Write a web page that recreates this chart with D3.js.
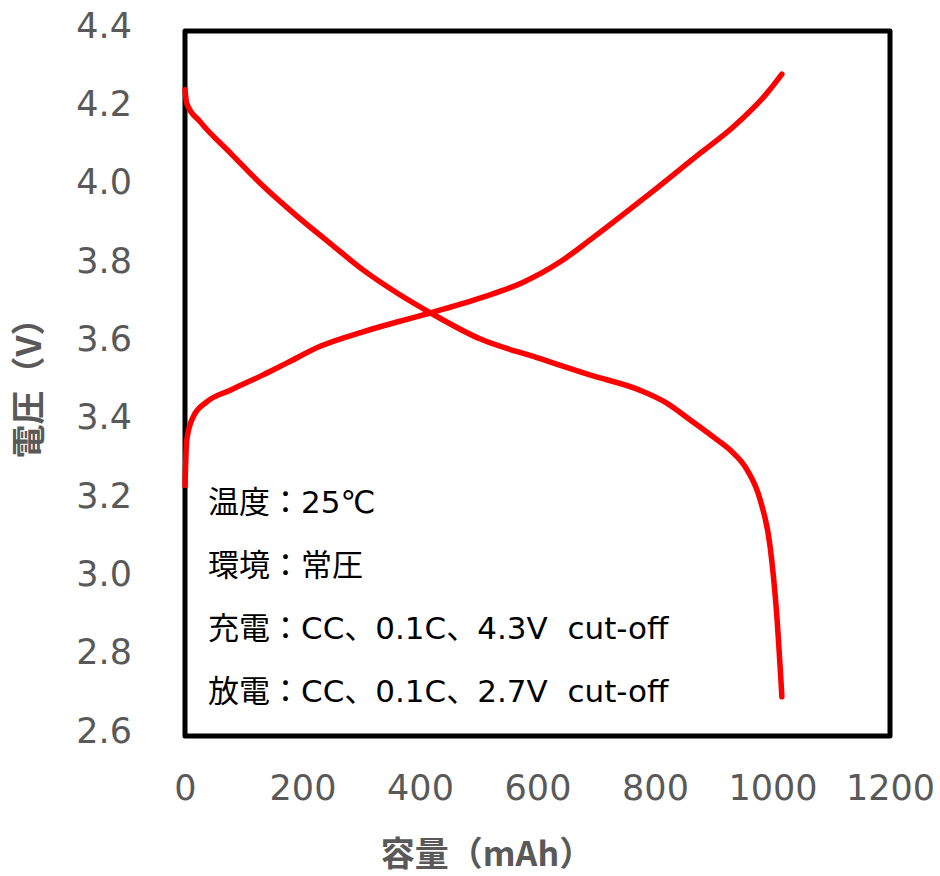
<!DOCTYPE html>
<html>
<head>
<meta charset="utf-8">
<script src="https://cdn.jsdelivr.net/npm/d3@7"></script>
<style>
  body { margin: 0; background: #fff; }
  .tick text { fill: #595959; font-family: "DejaVu Sans", sans-serif; }
  .note { white-space: pre; }
</style>
</head>
<body>
<div id="chart_area"></div>
<script>
// charge curve: capacity (mAh), voltage (V)
var charge_cap = [0, 3, 14, 37, 77, 133, 173, 230, 303, 361, 417, 502, 575, 640, 689, 783, 877, 933, 991, 1016];
var charge_v = [3.24, 3.356, 3.415, 3.453, 3.483, 3.522, 3.552, 3.595, 3.632, 3.657, 3.68, 3.718, 3.758, 3.812, 3.866, 3.975, 4.088, 4.155, 4.242, 4.29];

// discharge curve
var discharge_cap = [0, 3, 26, 77, 133, 190, 247, 303, 361, 417, 502, 599, 689, 774, 820, 860, 906, 928, 957, 979, 996, 1007, 1016];
var discharge_v = [4.25, 4.215, 4.168, 4.089, 4.004, 3.928, 3.858, 3.79, 3.731, 3.681, 3.614, 3.566, 3.522, 3.483, 3.45, 3.407, 3.356, 3.33, 3.279, 3.203, 3.083, 2.914, 2.70];

var x_ticks = [0, 200, 400, 600, 800, 1000, 1200];
var y_ticks = [2.6, 2.8, 3.0, 3.2, 3.4, 3.6, 3.8, 4.0, 4.2, 4.4];

var notes = ["温度：25℃", "環境：常圧", "充電：CC、0.1C、4.3V  cut-off", "放電：CC、0.1C、2.7V  cut-off"];

var frame_width = 940, frame_height = 876;
var margin = {top: 31, right: 50, bottom: 140, left: 185};
var canvas_width = frame_width - margin.left - margin.right;   // 705
var canvas_height = frame_height - margin.top - margin.bottom; // 705

var frame = d3.select("#chart_area").append("svg")
	.attr("width", frame_width)
	.attr("height", frame_height);

var canvas = frame.append("g")
	.attr("transform", "translate(" + margin.left + "," + margin.top + ")");

var xScale = d3.scaleLinear().domain([0, 1200]).range([0, canvas_width]);
var yScale = d3.scaleLinear().domain([2.6, 4.4]).range([canvas_height, 0]);

// axes (labels only, no lines)
var xAxis = d3.axisBottom(xScale).tickValues(x_ticks).tickSize(0).tickPadding(0).tickFormat(d3.format("d"));
var yAxis = d3.axisLeft(yScale).tickValues(y_ticks).tickSize(0).tickPadding(0).tickFormat(d3.format(".1f"));

var gx = canvas.append("g")
	.attr("transform", "translate(0," + canvas_height + ")")
	.call(xAxis);
gx.select(".domain").remove();
gx.selectAll("text")
	.attr("font-size", 35)
	.attr("y", 52)
	.attr("dy", "0.35em");

var gy = canvas.append("g").call(yAxis);
gy.select(".domain").remove();
gy.selectAll("text")
	.attr("font-size", 35)
	.attr("x", -53)
	.attr("y", -6)
	.attr("dy", "0.35em");

// frame of the plot area
canvas.append("rect")
	.attr("x", 0).attr("y", 0)
	.attr("width", canvas_width).attr("height", canvas_height)
	.attr("fill", "none")
	.attr("stroke", "#000")
	.attr("stroke-width", 5)
	.attr("stroke-linejoin", "round");

var line = d3.line()
	.x(function(d) { return xScale(d[0]); })
	.y(function(d) { return yScale(d[1]); })
	.curve(d3.curveMonotoneX);

var series = [
	d3.zip(charge_cap, charge_v),
	d3.zip(discharge_cap, discharge_v)
];

canvas.selectAll(".curve")
	.data(series)
	.enter().append("path")
	.attr("class", "curve")
	.attr("d", line)
	.attr("fill", "none")
	.attr("stroke", "#ff0000")
	.attr("stroke-width", 5.5)
	.attr("stroke-linecap", "round")
	.attr("stroke-linejoin", "round");

// condition notes
canvas.selectAll(".note")
	.data(notes)
	.enter().append("text")
	.attr("class", "note")
	.attr("x", 23)
	.attr("y", function(d, i) { return 471 + i * 63; })
	.attr("dy", "0.35em")
	.attr("font-family", "'DejaVu Sans', 'Noto Sans CJK JP', sans-serif")
	.attr("font-size", 31)
	.attr("fill", "#000")
	.text(function(d) { return d; });

// axis titles
frame.append("text")
	.attr("x", 487)
	.attr("y", 854)
	.attr("dy", "0.35em")
	.attr("text-anchor", "middle")
	.attr("font-family", "'Noto Sans CJK JP', sans-serif")
	.attr("font-weight", "bold")
	.attr("font-size", 34)
	.attr("fill", "#595959")
	.text("容量（mAh）");

frame.append("text")
	.attr("transform", "translate(29,380) rotate(-90)")
	.attr("dy", "0.35em")
	.attr("text-anchor", "middle")
	.attr("font-family", "'Noto Sans CJK JP', sans-serif")
	.attr("font-weight", "bold")
	.attr("font-size", 34)
	.attr("fill", "#595959")
	.text("電圧（V）");
</script>
</body>
</html>
